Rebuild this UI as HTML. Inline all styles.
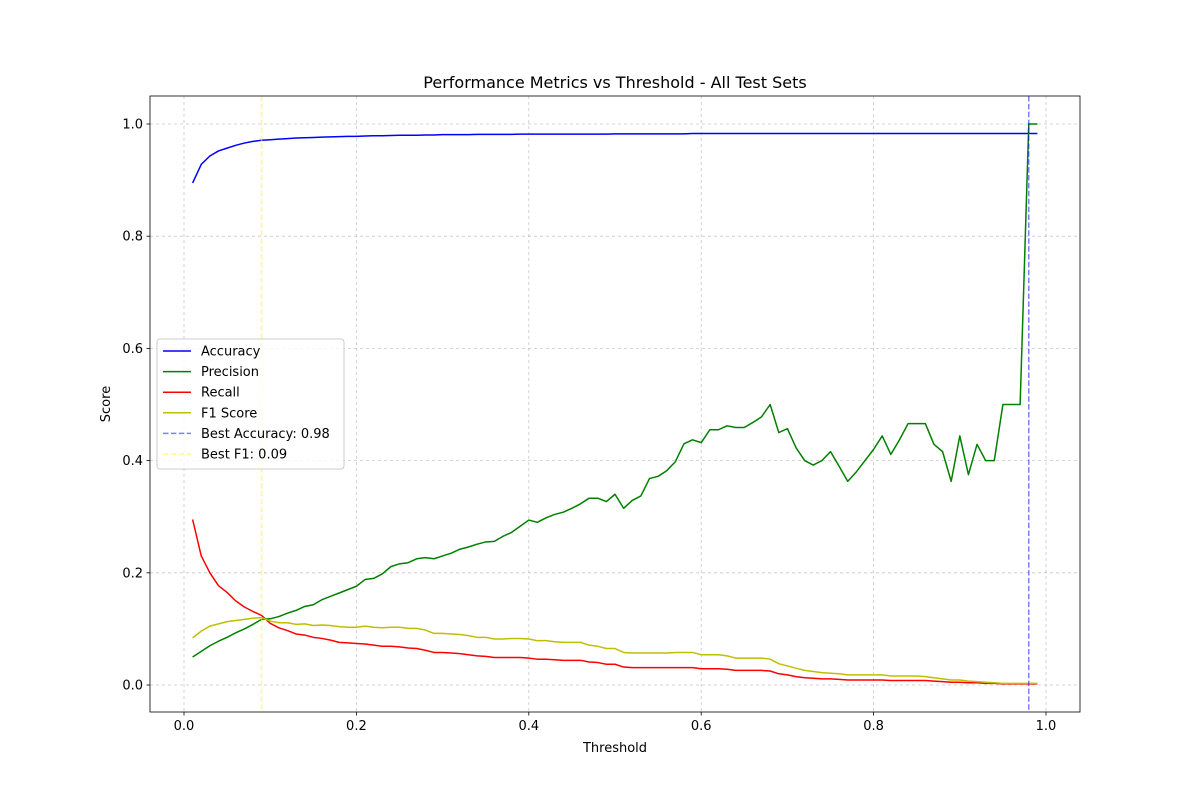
<!DOCTYPE html>
<html><head><meta charset="utf-8"><style>
html,body{margin:0;padding:0;background:#fff;}
svg text{font-family:"DejaVu Sans","Liberation Sans",sans-serif;fill:#000;}
</style></head><body>
<svg id="chart" width="1200" height="800" xmlns="http://www.w3.org/2000/svg"></svg>
<script>
const thresholds = [];
for (let i = 1; i <= 99; i++) thresholds.push(i / 100);
const accuracy = [0.895,0.928,0.943,0.952,0.957,0.962,0.966,0.969,0.971,0.972,
0.973,0.974,0.975,0.9755,0.976,0.9765,0.977,0.9775,0.978,0.978,
0.9785,0.979,0.979,0.9795,0.98,0.98,0.98,0.9805,0.9805,0.981,
0.981,0.981,0.981,0.9815,0.9815,0.9815,0.9815,0.9815,0.982,0.982,
0.982,0.982,0.982,0.982,0.982,0.982,0.982,0.982,0.982,0.9825,
0.9825,0.9825,0.9825,0.9825,0.9825,0.9825,0.9825,0.9825,0.983,0.983,
0.983,0.983,0.983,0.983,0.983,0.983,0.983,0.983,0.983,0.983,
0.983,0.983,0.983,0.983,0.983,0.983,0.983,0.983,0.983,0.983,
0.983,0.983,0.983,0.983,0.983,0.983,0.983,0.983,0.983,0.983,
0.983,0.983,0.983,0.983,0.983,0.983,0.983,0.983,0.983];
const precision = [0.05,0.06,0.07,0.078,0.085,0.093,0.10,0.108,0.117,0.118,
0.122,0.128,0.133,0.14,0.143,0.152,0.158,0.164,0.17,0.176,
0.188,0.19,0.198,0.211,0.216,0.218,0.225,0.227,0.225,0.23,
0.235,0.242,0.246,0.251,0.255,0.256,0.265,0.272,0.283,0.294,
0.29,0.298,0.304,0.308,0.315,0.323,0.333,0.333,0.327,0.34,
0.315,0.329,0.337,0.368,0.372,0.382,0.398,0.43,0.437,0.432,
0.455,0.455,0.462,0.459,0.459,0.468,0.478,0.5,0.45,0.457,
0.423,0.4,0.392,0.4,0.416,0.39,0.363,0.38,0.4,0.42,
0.444,0.411,0.437,0.466,0.466,0.466,0.429,0.416,0.363,0.444,
0.375,0.429,0.4,0.4,0.5,0.5,0.5,1.0,1.0];
const recall = [0.295,0.23,0.2,0.177,0.165,0.15,0.139,0.131,0.124,0.11,
0.102,0.097,0.091,0.089,0.085,0.083,0.08,0.076,0.075,0.074,
0.073,0.071,0.069,0.069,0.068,0.066,0.065,0.062,0.058,0.058,
0.057,0.056,0.054,0.052,0.051,0.049,0.049,0.049,0.049,0.048,
0.046,0.046,0.045,0.044,0.044,0.044,0.041,0.04,0.037,0.037,
0.032,0.031,0.031,0.031,0.031,0.031,0.031,0.031,0.031,0.029,
0.029,0.029,0.028,0.026,0.026,0.026,0.026,0.025,0.02,0.018,
0.015,0.013,0.012,0.011,0.011,0.01,0.009,0.009,0.009,0.009,
0.009,0.008,0.008,0.008,0.008,0.008,0.007,0.006,0.005,0.005,
0.004,0.004,0.003,0.003,0.002,0.002,0.002,0.002,0.002];
const f1 = [0.084,0.096,0.105,0.109,0.113,0.115,0.117,0.119,0.12,0.114,
0.111,0.111,0.108,0.109,0.106,0.107,0.106,0.104,0.103,0.103,
0.105,0.103,0.102,0.103,0.103,0.101,0.101,0.098,0.092,0.092,
0.091,0.09,0.088,0.085,0.085,0.082,0.082,0.083,0.083,0.082,
0.079,0.079,0.077,0.076,0.076,0.076,0.071,0.069,0.065,0.065,
0.058,0.057,0.057,0.057,0.057,0.057,0.058,0.058,0.058,0.054,
0.054,0.054,0.052,0.048,0.048,0.048,0.048,0.046,0.038,0.034,
0.03,0.026,0.024,0.022,0.021,0.02,0.018,0.018,0.018,0.018,
0.018,0.016,0.016,0.016,0.016,0.015,0.013,0.011,0.009,0.009,
0.007,0.006,0.005,0.004,0.003,0.003,0.003,0.003,0.003];
const xTicks = [0.0,0.2,0.4,0.6,0.8,1.0];
const xTickLabels = ["0.0","0.2","0.4","0.6","0.8","1.0"];
const yTicks = [0.0,0.2,0.4,0.6,0.8,1.0];
const yTickLabels = ["0.0","0.2","0.4","0.6","0.8","1.0"];
const bestAccThreshold = [0.98];
const bestF1Threshold = [0.09];

const L=150,R=1080,T=96,B=712;
const xs = v => 184 + v*862;
const ys = v => 685 - v*561;
const svg = document.getElementById('chart');
const NS='http://www.w3.org/2000/svg';
function mk(tag, attrs, parent){const e=document.createElementNS(NS,tag);for(const k in attrs)e.setAttribute(k,attrs[k]);(parent||svg).appendChild(e);return e;}

// grid
xTicks.forEach((t,i)=>{
  const g=mk('line',{x1:xs(t),x2:xs(t),y1:T,y2:B,stroke:'#b0b0b0','stroke-width':0.8,'stroke-dasharray':'3,3','stroke-opacity':0.7});
  
  
});
yTicks.forEach((t,i)=>{
  const g=mk('line',{x1:L,x2:R,y1:ys(t),y2:ys(t),stroke:'#b0b0b0','stroke-width':0.8,'stroke-dasharray':'3,3','stroke-opacity':0.7});
  
  
});

function series(vals,color,name){
  const d=vals.map((v,i)=>(i?'L':'M')+xs(thresholds[i]).toFixed(2)+','+ys(v).toFixed(2)).join(' ');
  const p=mk('path',{d:d,fill:'none',stroke:color,'stroke-width':1.5,'stroke-linejoin':'round'});
  
  
}
series(accuracy,'#0000ff','accuracy-line');
series(precision,'#008000','precision-line');
series(recall,'#ff0000','recall-line');
series(f1,'#bfbf00','f1-score-line');

const ba=mk('line',{x1:xs(bestAccThreshold[0]),x2:xs(bestAccThreshold[0]),y1:T,y2:B,stroke:'#0000ff','stroke-opacity':0.5,'stroke-width':1.5,'stroke-dasharray':'5.5,2.4'});


const bf=mk('line',{x1:xs(bestF1Threshold[0]),x2:xs(bestF1Threshold[0]),y1:T,y2:B,stroke:'#ffff00','stroke-opacity':0.5,'stroke-width':1.5,'stroke-dasharray':'5.5,2.4'});



// axes frame
const fr=mk('rect',{x:L,y:T,width:R-L,height:B-T,fill:'none',stroke:'#000','stroke-width':0.8});



xTicks.forEach((t,i)=>{
  const tk=mk('line',{x1:xs(t),x2:xs(t),y1:B,y2:B+3.5,stroke:'#000','stroke-width':0.8});
  
  
  const tx=mk('text',{x:xs(t),y:B+18,'text-anchor':'middle','font-size':13});
  tx.textContent=xTickLabels[i];
  
  
});
yTicks.forEach((t,i)=>{
  const tk=mk('line',{x1:L-3.5,x2:L,y1:ys(t),y2:ys(t),stroke:'#000','stroke-width':0.8});
  
  
  const tx=mk('text',{x:L-7,y:ys(t)+4.5,'text-anchor':'end','font-size':13});
  tx.textContent=yTickLabels[i];
  
  
});

const title=mk('text',{x:615,y:88,'text-anchor':'middle','font-size':16});
title.textContent='Performance Metrics vs Threshold - All Test Sets';


const xl=mk('text',{x:615,y:752,'text-anchor':'middle','font-size':13});
xl.textContent='Threshold';


const yl=mk('text',{x:110,y:404,'text-anchor':'middle','font-size':13,transform:'rotate(-90 110 404)'});
yl.textContent='Score';



// legend
const lg=mk('g',{});


mk('rect',{x:157,y:339,width:187,height:130,rx:3,fill:'#fff','fill-opacity':0.8,stroke:'#ccc','stroke-width':1},lg);
const entries=[['Accuracy','#0000ff',1,null],['Precision','#008000',1,null],['Recall','#ff0000',1,null],['F1 Score','#bfbf00',1,null],['Best Accuracy: 0.98','#0000ff',0.5,'5.5,2.4'],['Best F1: 0.09','#ffff00',0.5,'5.5,2.4']];
entries.forEach((e,i)=>{
  const y=351+i*20.6;
  const g=mk('g',{},lg);
  
  
  const a={x1:163,x2:191,y1:y,y2:y,stroke:e[1],'stroke-opacity':e[2],'stroke-width':1.5};
  if(e[3])a['stroke-dasharray']=e[3];
  mk('line',a,g);
  const t=mk('text',{x:201,y:y+4.5,'font-size':13},g);
  t.textContent=e[0];
});
</script>
</body></html>
